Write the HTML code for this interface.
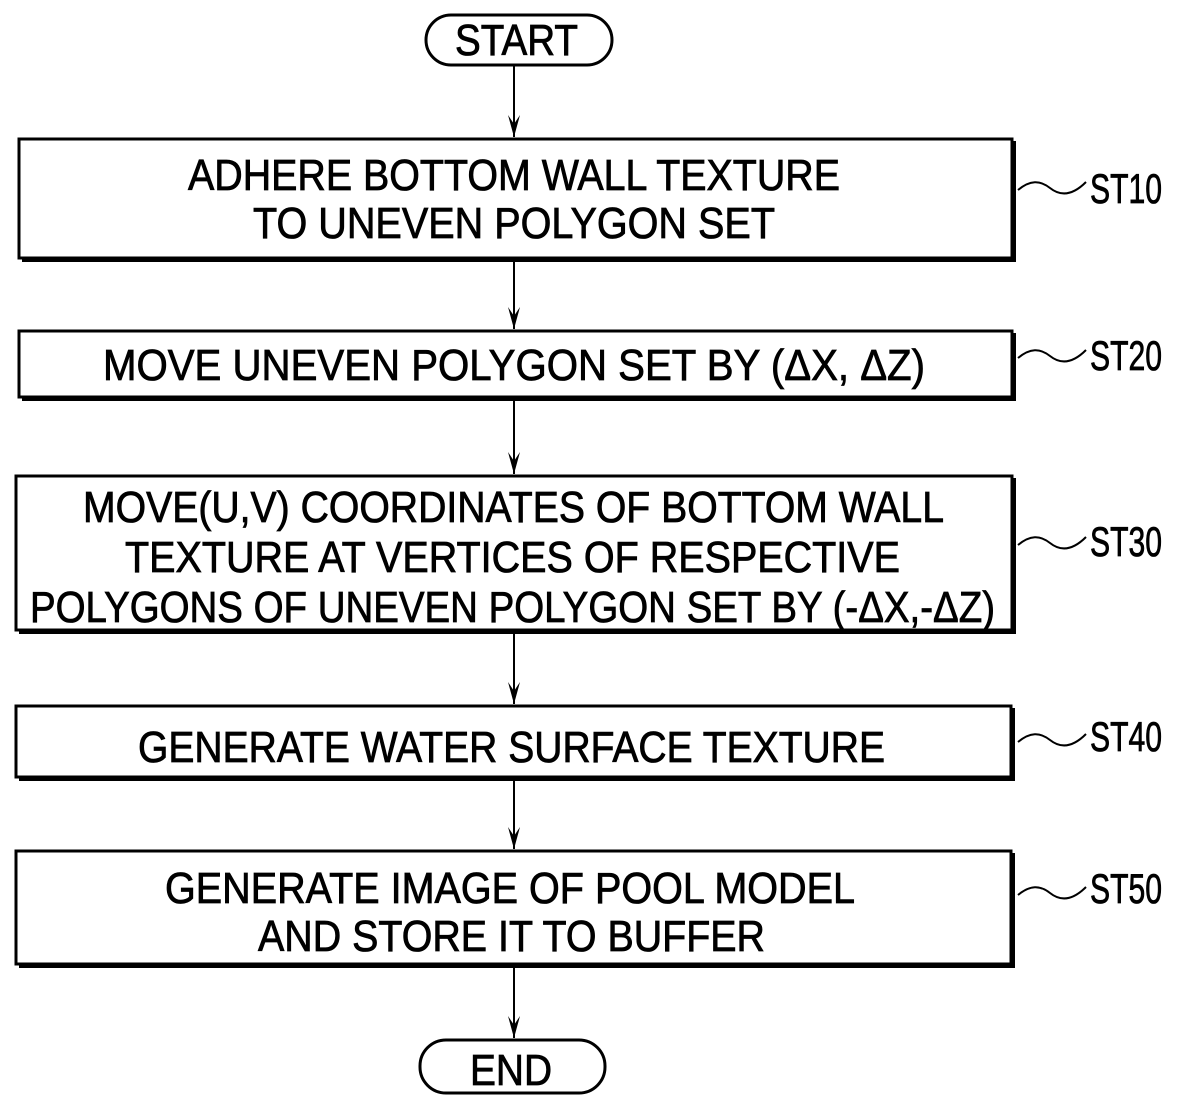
<!DOCTYPE html>
<html><head><meta charset="utf-8"><style>html,body{margin:0;padding:0;background:#fff}svg{display:block}</style></head>
<body>
<svg width="1200" height="1109" viewBox="0 0 1200 1109" xmlns="http://www.w3.org/2000/svg" font-family="Liberation Sans, Arial, sans-serif" font-size="44" fill="#000">
<defs><marker id="a" markerWidth="24" markerHeight="12" refX="22" refY="6" orient="auto" markerUnits="userSpaceOnUse"><path d="M0,0 L22,6 L0,12 L9,6 Z" fill="#000"/></marker></defs>
<g fill="none" stroke="#000">
<rect x="426" y="15" width="186" height="50" rx="25" stroke-width="3"/>
<rect x="420" y="1040" width="185" height="53" rx="26" stroke-width="3"/>
<g stroke-width="3">
<rect x="19" y="139" width="993" height="119"/>
<rect x="19" y="331" width="993" height="66"/>
<rect x="16" y="476" width="996" height="154"/>
<rect x="16" y="706" width="995" height="71"/>
<rect x="16" y="851" width="995" height="113"/>
</g>
<g stroke-width="4">
<path d="M22,260 H1014 V141"/><path d="M22,399 H1014 V333"/><path d="M19,632 H1014 V478"/><path d="M19,779 H1013 V708"/><path d="M19,966 H1013 V853"/>
</g>
<g stroke-width="2">
<line x1="514" y1="66" x2="514" y2="137" marker-end="url(#a)"/>
<line x1="514" y1="261" x2="514" y2="329" marker-end="url(#a)"/>
<line x1="514" y1="400" x2="514" y2="474" marker-end="url(#a)"/>
<line x1="514" y1="633" x2="514" y2="704" marker-end="url(#a)"/>
<line x1="514" y1="780" x2="514" y2="849" marker-end="url(#a)"/>
<line x1="514" y1="967" x2="514" y2="1038" marker-end="url(#a)"/>
<path d="M1018,190 C1030,180 1040,180 1050,188 C1060,196 1072,196 1086,182"/>
<path d="M1018,358 C1030,348 1040,348 1050,356 C1060,364 1072,364 1086,350"/>
<path d="M1018,545 C1030,535 1040,535 1050,543 C1060,551 1072,551 1086,537"/>
<path d="M1018,742 C1030,732 1040,732 1050,740 C1060,748 1072,748 1086,734"/>
<path d="M1018,895 C1030,885 1040,885 1050,893 C1060,901 1072,901 1086,887"/>
</g>
</g>
<g stroke="#000" stroke-width="0.8">
<text x="455" y="55" textLength="123" lengthAdjust="spacingAndGlyphs">START</text>
<text x="470" y="1085" textLength="82" lengthAdjust="spacingAndGlyphs">END</text>
<text x="188" y="190" textLength="652" lengthAdjust="spacingAndGlyphs">ADHERE BOTTOM WALL TEXTURE</text>
<text x="253" y="238" textLength="522" lengthAdjust="spacingAndGlyphs">TO UNEVEN POLYGON SET</text>
<text x="103" y="380" textLength="822" lengthAdjust="spacingAndGlyphs">MOVE UNEVEN POLYGON SET BY (ΔX, ΔZ)</text>
<text x="83" y="522" textLength="861" lengthAdjust="spacingAndGlyphs">MOVE(U,V) COORDINATES OF BOTTOM WALL</text>
<text x="125" y="572" textLength="775" lengthAdjust="spacingAndGlyphs">TEXTURE AT VERTICES OF RESPECTIVE</text>
<text x="30" y="622" textLength="965" lengthAdjust="spacingAndGlyphs">POLYGONS OF UNEVEN POLYGON SET BY (-ΔX,-ΔZ)</text>
<text x="138" y="762" textLength="747" lengthAdjust="spacingAndGlyphs">GENERATE WATER SURFACE TEXTURE</text>
<text x="165" y="903" textLength="690" lengthAdjust="spacingAndGlyphs">GENERATE IMAGE OF POOL MODEL</text>
<text x="258" y="951" textLength="507" lengthAdjust="spacingAndGlyphs">AND STORE IT TO BUFFER</text>
<g font-size="42">
<text x="1090" y="203" textLength="72" lengthAdjust="spacingAndGlyphs">ST10</text>
<text x="1090" y="370" textLength="72" lengthAdjust="spacingAndGlyphs">ST20</text>
<text x="1090" y="556" textLength="72" lengthAdjust="spacingAndGlyphs">ST30</text>
<text x="1090" y="751" textLength="72" lengthAdjust="spacingAndGlyphs">ST40</text>
<text x="1090" y="903" textLength="72" lengthAdjust="spacingAndGlyphs">ST50</text>
</g>
</g>
</svg>
</body></html>
